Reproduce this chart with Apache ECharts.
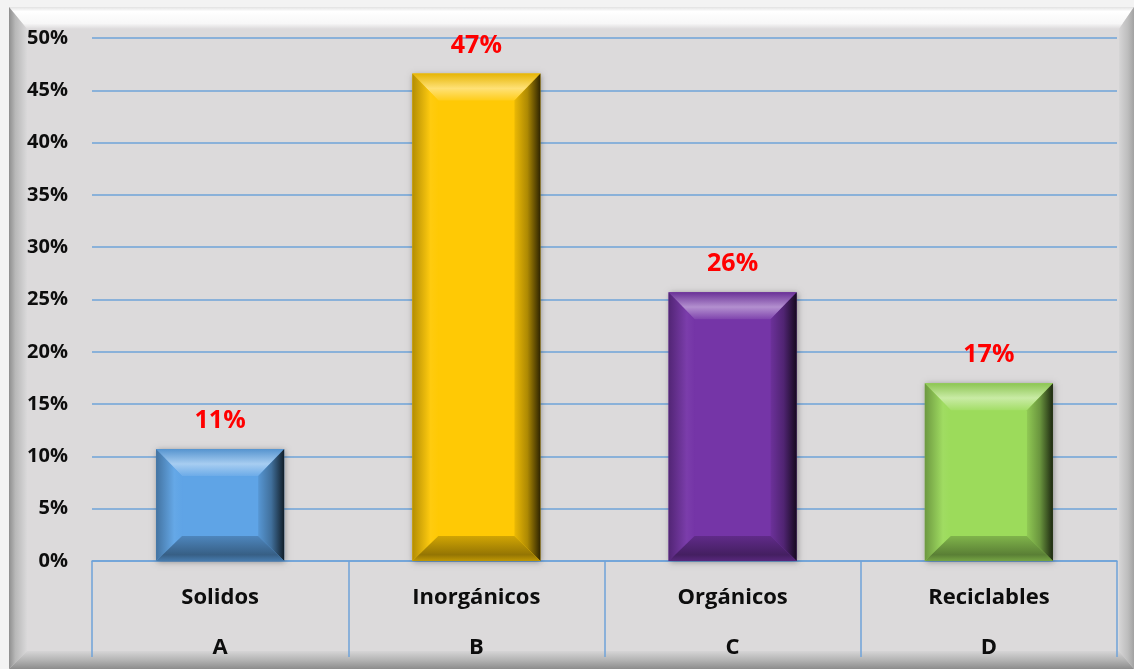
<!DOCTYPE html>
<html>
<head>
<meta charset="utf-8">
<title>Tipos de residuos</title>
<script src="https://cdn.jsdelivr.net/npm/echarts@6/dist/echarts.min.js"></script>
<style>
  html, body { margin: 0; padding: 0; background: #f3f3f3; }
  #chart { width: 1134px; height: 669px; }
</style>
</head>
<body>
<div id="chart"></div>
<script>
// Waste categories, their group letters and their share of the total
const categories = ['Solidos', 'Inorgánicos', 'Orgánicos', 'Reciclables'];
const groups = ['A', 'B', 'C', 'D'];
const shares = [0.107, 0.466, 0.257, 0.170];

// Base fill for each bar
const barColors = ['#5fa4e6', '#ffc905', '#7535a7', '#9cdb5b'];

// Value axis range
const axisMin = 0;
const axisMax = 0.5;
const axisStep = 0.05;

const FONT = '"Open Sans", Lato, sans-serif';
const GRID_BLUE = '#6fa3d9';

function parseHex(c) {
  const n = parseInt(c.slice(1), 16);
  return [(n >> 16) & 255, (n >> 8) & 255, n & 255];
}
function mix(c, target, t) {
  const a = parseHex(c), b = parseHex(target);
  const r = a.map((v, k) => Math.round(v + (b[k] - v) * t));
  return 'rgb(' + r.join(',') + ')';
}
const lighten = (c, t) => mix(c, '#ffffff', t);
const darken = (c, t) => mix(c, '#000000', t);
const pct = v => Math.round(v * 100) + '%';

// Bevelled bar: a flat centre face framed by four shaded trapezoids
function renderBevelBar(params, api) {
  const idx = api.value(0);
  const val = api.value(1);
  const top = api.coord([idx, val]);
  const base = api.coord([idx, 0]);
  const w = api.size([1, 0])[0] * 0.5;
  const x0 = top[0] - w / 2, x1 = top[0] + w / 2;
  const y0 = top[1], y1 = base[1];
  const h = y1 - y0;
  const bs = 26;
  const bt = Math.min(27, h * 0.3);
  const bb = Math.min(25, h * 0.3);
  const c = barColors[idx % barColors.length];

  const lin = (horizontal, stops) => ({
    type: 'linear', x: 0, y: 0, x2: horizontal ? 1 : 0, y2: horizontal ? 0 : 1,
    colorStops: stops.map(s => ({ offset: s[0], color: s[1] }))
  });

  return {
    type: 'group',
    children: [
      {
        type: 'rect',
        shape: { x: x0, y: y0, width: w, height: h },
        style: { fill: c, shadowBlur: 6, shadowColor: 'rgba(0,0,0,0.35)', shadowOffsetX: 1, shadowOffsetY: 1 }
      },
      {
        type: 'rect',
        shape: { x: x0 + bs, y: y0 + bt, width: w - 2 * bs, height: h - bt - bb },
        style: { fill: c }
      },
      {
        type: 'polygon',
        shape: { points: [[x0, y0], [x1, y0], [x1 - bs, y0 + bt], [x0 + bs, y0 + bt]] },
        style: { fill: lin(false, [[0, darken(c, 0.1)], [0.55, lighten(c, 0.45)], [1, lighten(c, 0.08)]]) }
      },
      {
        type: 'polygon',
        shape: { points: [[x0, y0], [x0 + bs, y0 + bt], [x0 + bs, y1 - bb], [x0, y1]] },
        style: { fill: lin(true, [[0, darken(c, 0.3)], [0.7, lighten(c, 0.04)], [1, c]]) }
      },
      {
        type: 'polygon',
        shape: { points: [[x1, y0], [x1 - bs, y0 + bt], [x1 - bs, y1 - bb], [x1, y1]] },
        style: { fill: lin(true, [[0, darken(c, 0.08)], [0.5, darken(c, 0.32)], [1, darken(c, 0.82)]]) }
      },
      {
        type: 'polygon',
        shape: { points: [[x0, y1], [x0 + bs, y1 - bb], [x1 - bs, y1 - bb], [x1, y1]] },
        style: { fill: lin(false, [[0, darken(c, 0.18)], [0.75, darken(c, 0.42)], [1, darken(c, 0.25)]]) }
      },
      {
        type: 'text',
        style: {
          text: pct(val),
          x: top[0], y: y0 - 28,
          textAlign: 'center', textVerticalAlign: 'middle',
          fill: '#ff0000',
          font: 'bold 25px ' + FONT
        }
      }
    ]
  };
}

// Bevelled outer frame of the chart panel
const FX0 = 9, FY0 = 7, FX1 = 1134, FY1 = 669;
const BL = 18, BT = 22, BR = 15, BB = 18;
function edge(points, horizontal, stops) {
  return {
    type: 'polygon', silent: true, z: -10,
    shape: { points: points },
    style: {
      fill: {
        type: 'linear', x: 0, y: 0, x2: horizontal ? 1 : 0, y2: horizontal ? 0 : 1,
        colorStops: stops.map(s => ({ offset: s[0], color: s[1] }))
      }
    }
  };
}
const frame = [
  { type: 'rect', silent: true, z: -11, shape: { x: FX0, y: FY0, width: FX1 - FX0, height: FY1 - FY0 }, style: { fill: '#dcdadb' } },
  edge([[FX0, FY0], [FX1, FY0], [FX1 - BR, FY0 + BT], [FX0 + BL, FY0 + BT]], false,
       [[0, '#e2e2e2'], [0.2, '#ffffff'], [0.75, '#f7f7f7'], [1, '#dcdadb']]),
  edge([[FX0, FY0], [FX0 + BL, FY0 + BT], [FX0 + BL, FY1 - BB], [FX0, FY1]], true,
       [[0, '#8e8e8e'], [0.35, '#b8b8b8'], [1, '#dad9da']]),
  edge([[FX1, FY0], [FX1 - BR, FY0 + BT], [FX1 - BR, FY1 - BB], [FX1, FY1]], true,
       [[0, '#d6d5d6'], [0.6, '#bdbdbd'], [1, '#a2a2a2']]),
  edge([[FX0, FY1], [FX0 + BL, FY1 - BB], [FX1 - BR, FY1 - BB], [FX1, FY1]], false,
       [[0, '#d6d5d6'], [0.5, '#b4b4b4'], [1, '#8c8c8c']])
];

const chart = echarts.init(document.getElementById('chart'), null, { renderer: 'canvas' });
chart.setOption({
  backgroundColor: 'transparent',
  animation: false,
  graphic: { elements: frame },
  grid: { left: 92, right: 17, top: 38, bottom: 108 },
  xAxis: {
    type: 'category',
    data: categories,
    boundaryGap: true,
    axisLine: { show: true, lineStyle: { color: GRID_BLUE, width: 1.5 } },
    axisTick: { show: true, interval: 0, length: 96, lineStyle: { color: GRID_BLUE, width: 1.5 } },
    axisLabel: {
      interval: 0,
      margin: 12,
      formatter: (v, i) => '{a|' + v + '}\n{b|' + groups[i] + '}',
      rich: {
        a: { fontFamily: FONT, fontWeight: 'bold', fontSize: 22, color: '#0d0d0d', lineHeight: 50 },
        b: { fontFamily: FONT, fontWeight: 'bold', fontSize: 22, color: '#0d0d0d', lineHeight: 50 }
      }
    },
    splitLine: { show: false }
  },
  yAxis: {
    type: 'value',
    min: axisMin,
    max: axisMax,
    interval: axisStep,
    axisLine: { show: false },
    axisTick: { show: false },
    axisLabel: {
      formatter: v => pct(v),
      margin: 24,
      color: '#0d0d0d',
      fontFamily: FONT,
      fontWeight: 'bold',
      fontSize: 20
    },
    splitLine: { show: true, lineStyle: { color: GRID_BLUE, width: 1.5 } }
  },
  series: [{
    type: 'custom',
    renderItem: renderBevelBar,
    encode: { x: 0, y: 1 },
    data: shares.map((v, i) => [i, v]),
    clip: false,
    z: 5
  }]
});
</script>
</body>
</html>
